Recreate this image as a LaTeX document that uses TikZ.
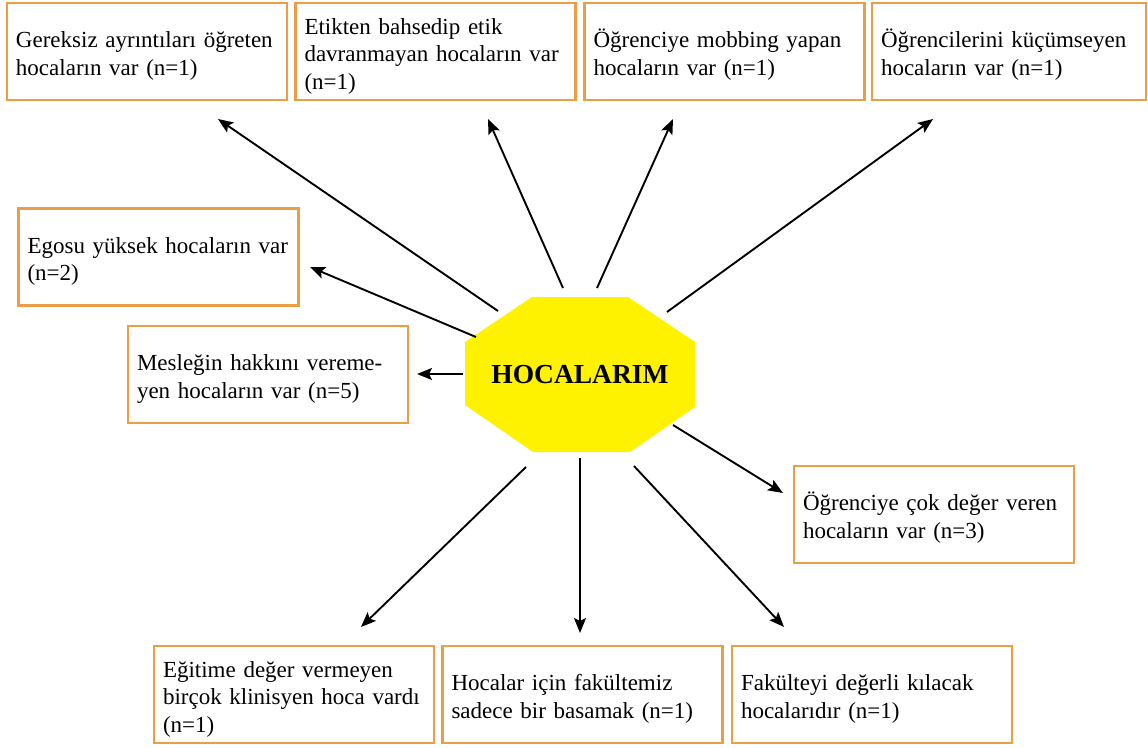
\documentclass[tikz,border=0pt]{standalone}
\usepackage{fontspec}
\setmainfont{Liberation Serif}
\usetikzlibrary{arrows.meta}
\definecolor{boxorange}{RGB}{234,158,70}
\definecolor{hubyellow}{RGB}{255,242,0}
\begin{document}
\begin{tikzpicture}[x=1pt,y=-1pt,
  box/.style={draw=boxorange, line width=2.4pt, fill=white,
    minimum height=97pt, inner xsep=9pt, inner ysep=0pt,
    align=left, font=\fontsize{23}{27.5}\selectfont, text height=25pt},
  w280/.style={minimum width=280pt, text width=262pt},
  arr/.style={line width=1.9pt, -{Stealth[length=15pt,width=12pt,inset=3pt]}}]
\useasboundingbox (0,0) rectangle (1148,747);

% central octagon
\fill[hubyellow] (532,297) -- (628,297) -- (695,342) -- (695,407)
  -- (630,452) -- (533,452) -- (465,405) -- (465,342) -- cycle;
\node[font=\fontsize{27.5}{30}\selectfont\bfseries] (hub) at (580,375) {HOCALARIM};

% outer boxes
\node[box,w280] (b1) at (147,51.5) {Gereksiz ayrıntıları öğreten\\hocaların var (n=1)};
\node[box,w280] (b2) at (435.5,51.5) {Etikten bahsedip etik\\davranmayan hocaların var\\(n=1)};
\node[box,w280] (b3) at (724.5,51.5) {Öğrenciye mobbing yapan\\hocaların var (n=1)};
\node[box,minimum width=274pt,text width=256pt] (b4) at (1009,51.5) {Öğrencilerini küçümseyen\\hocaların var (n=1)};
\node[box,w280] (b5) at (158.5,257) {Egosu yüksek hocaların var\\(n=2)};
\node[box,w280] (b6) at (268,374.5) {Mesleğin hakkını vereme-\\yen hocaların var (n=5)};
\node[box,w280] (b7) at (934,514.5) {Öğrenciye çok değer veren\\hocaların var (n=3)};
\node[box,w280] (b8) at (294,694.5) {Eğitime değer vermeyen\\birçok klinisyen hoca vardı\\(n=1)};
\node[box,w280] (b9) at (582.5,694.5) {Hocalar için fakültemiz\\sadece bir basamak (n=1)};
\node[box,w280] (b10) at (872,694.5) {Fakülteyi değerli kılacak\\hocalarıdır (n=1)};

% arrow ends
\coordinate (s1) at (498,311);  \coordinate (t1) at (218,119);
\coordinate (s2) at (563,288);  \coordinate (t2) at (488,119);
\coordinate (s3) at (597,288);  \coordinate (t3) at (673,119);
\coordinate (s4) at (667,312);  \coordinate (t4) at (933,119);
\coordinate (s5) at (476,337);  \coordinate (t5) at (310,267);
\coordinate (s6) at (463,374);  \coordinate (t6) at (417,374);
\coordinate (s7) at (673,425);  \coordinate (t7) at (783,493);
\coordinate (s8) at (526,467);  \coordinate (t8) at (361,627);
\coordinate (s9) at (580,458);  \coordinate (t9) at (580,633);
\coordinate (s10) at (634,466); \coordinate (t10) at (784,627);

\foreach \i in {1,...,10} {\draw[arr] (s\i) -- (t\i);}
\end{tikzpicture}
\end{document}
